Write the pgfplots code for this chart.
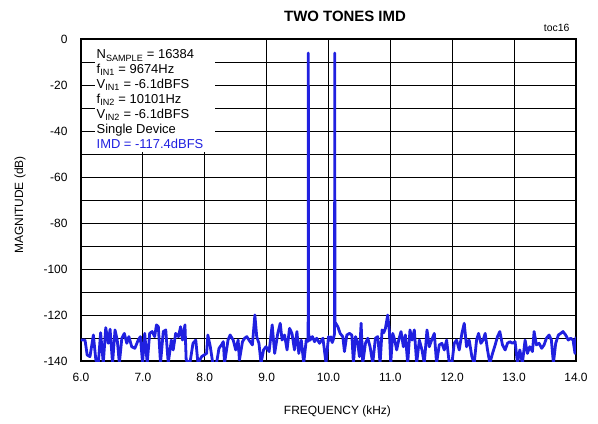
\documentclass[border=0pt]{standalone}
\usepackage{fontspec}
\setmainfont{Liberation Sans}
\usepackage{pgfplots}
\pgfplotsset{compat=1.18}
\definecolor{trace}{RGB}{32,32,224}

\begin{document}
\begin{tikzpicture}
\useasboundingbox (-81bp,-63bp) rectangle (517bp,361bp);
\begin{axis}[
    scale only axis,
    width=495bp, height=322bp,
    xmin=6, xmax=14, ymin=-140, ymax=0,
    xtick={6,...,14},
    xticklabels={6.0,7.0,8.0,9.0,10.0,11.0,12.0,13.0,14.0},
    ytick={-140,-130,...,0},
    yticklabels={-140,,-120,,-100,,-80,,-60,,-40,,-20,,0},
    grid=major,
    major grid style={black, line width=0.8bp},
    major tick length=0pt,
    axis line style={black, line width=1.6bp},
    tick label style={font=\fontsize{12}{14}\selectfont},
    xticklabel style={yshift=-9bp},
    yticklabel style={xshift=-10bp},
    xlabel={FREQUENCY (kHz)},
    ylabel={MAGNITUDE (dB)},
    label style={font=\fontsize{12}{14}\selectfont},
    xlabel style={at={(axis description cs:0.518,-0.158)}, anchor=center},
    ylabel style={at={(axis description cs:-0.123,0.4845)}, anchor=center},
]
\addplot[trace, line width=2.8bp, line join=round] coordinates {
(6.0,-130.9) (6.065,-130.9) (6.10,-137.4) (6.145,-138.1) (6.20,-128.7)
(6.24,-139.6) (6.28,-141) (6.317,-127.7) (6.36,-141) (6.40,-125.5)
(6.44,-132.3) (6.47,-126.2) (6.51,-141) (6.55,-126.5) (6.586,-130.9)
(6.62,-141) (6.66,-130.1) (6.70,-128.0) (6.74,-132.3) (6.774,-129.4)
(6.82,-133.8) (6.87,-134.5) (6.925,-130.9) (6.96,-129.4) (6.995,-141)
(7.03,-128.0) (7.07,-141) (7.11,-128.0) (7.15,-127.2) (7.19,-129.4)
(7.22,-124.3) (7.25,-125.1) (7.285,-141) (7.33,-127.2) (7.37,-126.5)
(7.41,-141) (7.46,-130.9) (7.49,-135.2) (7.53,-128.0) (7.575,-129.4)
(7.61,-125.1) (7.64,-130.9) (7.68,-124.3) (7.70,-139.6) (7.76,-141)
(7.81,-132.3) (7.855,-130.9) (7.89,-141) (7.95,-138.1) (8.03,-136.7)
(8.05,-128.7) (8.09,-133.8) (8.13,-141) (8.19,-141) (8.23,-134.5)
(8.27,-133.0) (8.30,-131.6) (8.32,-141) (8.376,-130.9) (8.41,-128.7)
(8.46,-130.9) (8.50,-135.2) (8.54,-130.9) (8.56,-139.6) (8.61,-131.6)
(8.645,-130.1) (8.68,-129.4) (8.715,-130.9) (8.77,-133.0) (8.81,-120.0)
(8.84,-129.4) (8.876,-132.3) (8.91,-141) (8.95,-135.2) (8.99,-133.8)
(9.04,-135.9) (9.09,-124.3) (9.13,-136.7) (9.18,-128.0) (9.22,-123.6)
(9.25,-130.9) (9.29,-128.7) (9.33,-135.2) (9.37,-125.8) (9.41,-128.0)
(9.45,-135.2) (9.49,-127.2) (9.52,-136.7) (9.56,-130.9) (9.60,-141)
(9.64,-130.9) (9.665,-131.5) (9.671,-128) (9.674,-6.1) (9.677,-128)
(9.70,-131) (9.74,-129.4) (9.774,-131.6) (9.81,-130.1) (9.855,-132.3)
(9.91,-130.1) (9.96,-141) (10.0,-129.4) (10.02,-131) (10.04,-129.5)
(10.06,-132) (10.08,-130.5) (10.098,-128) (10.101,-6.1) (10.104,-123)
(10.151,-125.1) (10.188,-128.0) (10.231,-129.4) (10.258,-135.9) (10.296,-128.7)
(10.339,-128.0) (10.377,-128.7) (10.403,-141) (10.436,-129.4) (10.473,-132.3)
(10.50,-138.1) (10.527,-123.6) (10.554,-141) (10.597,-132.3) (10.635,-130.1)
(10.672,-133.8) (10.715,-141) (10.758,-130.1) (10.796,-129.4) (10.834,-141)
(10.866,-126.5) (10.893,-127.7) (10.92,-125.8) (10.957,-120.0) (10.984,-127.2)
(11.006,-141) (11.038,-128.0) (11.07,-130.9) (11.102,-135.2) (11.135,-130.9)
(11.172,-127.2) (11.21,-133.8) (11.242,-128.7) (11.28,-141) (11.317,-126.5)
(11.35,-130.9) (11.387,-126.5) (11.425,-141) (11.468,-130.9) (11.511,-135.2)
(11.548,-141) (11.592,-126.5) (11.629,-133.8) (11.667,-130.9) (11.71,-128.0)
(11.747,-141) (11.79,-133.0) (11.833,-132.3) (11.871,-135.2) (11.909,-130.9)
(11.952,-141) (11.995,-141) (12.032,-132.3) (12.07,-130.9) (12.113,-135.2)
(12.156,-128.0) (12.194,-123.6) (12.231,-133.8) (12.274,-130.9) (12.317,-138.1)
(12.355,-141) (12.393,-130.9) (12.425,-128.0) (12.463,-132.3) (12.50,-130.9)
(12.532,-128.0) (12.57,-135.2) (12.608,-141) (12.651,-136.7) (12.694,-133.0)
(12.731,-129.4) (12.769,-127.2) (12.812,-133.0) (12.855,-135.2) (12.893,-132.3)
(12.93,-131.6) (12.973,-132.3) (13.016,-131.6) (13.054,-141) (13.092,-135.2)
(13.134,-141) (13.177,-130.9) (13.215,-136.7) (13.253,-133.8) (13.296,-135.9)
(13.323,-127.2) (13.36,-133.0) (13.403,-132.3) (13.446,-134.5) (13.484,-133.0)
(13.522,-130.1) (13.565,-128.7) (13.602,-130.9) (13.635,-141) (13.672,-132.3)
(13.715,-128.7) (13.753,-128.0) (13.79,-127.2) (13.833,-128.7) (13.876,-130.9)
(13.914,-130.1) (13.952,-130.9) (13.984,-136.7) (14.0,-129.4)
};
% white box behind the annotation
\fill[white] (axis cs:6.226,-0.4) rectangle (axis cs:8.161,-49.1);
\node[anchor=north west, align=left, inner sep=0pt,
      font=\fontsize{13}{15}\selectfont]
  at (axis cs:6.25,-4.6) {%
  N\textsubscript{SAMPLE} = 16384\\
  f\textsubscript{IN1} = 9674Hz\\
  V\textsubscript{IN1} = -6.1dBFS\\
  f\textsubscript{IN2} = 10101Hz\\
  V\textsubscript{IN2} = -6.1dBFS\\
  Single Device\\
  \textcolor{trace}{IMD = -117.4dBFS}};
\end{axis}
\node[font=\bfseries\fontsize{15}{18}\selectfont] at (264bp,345bp) {TWO TONES IMD};
\node[anchor=east, font=\fontsize{10.5}{12}\selectfont] at (492bp,333bp) {toc16};
\end{tikzpicture}
\end{document}
